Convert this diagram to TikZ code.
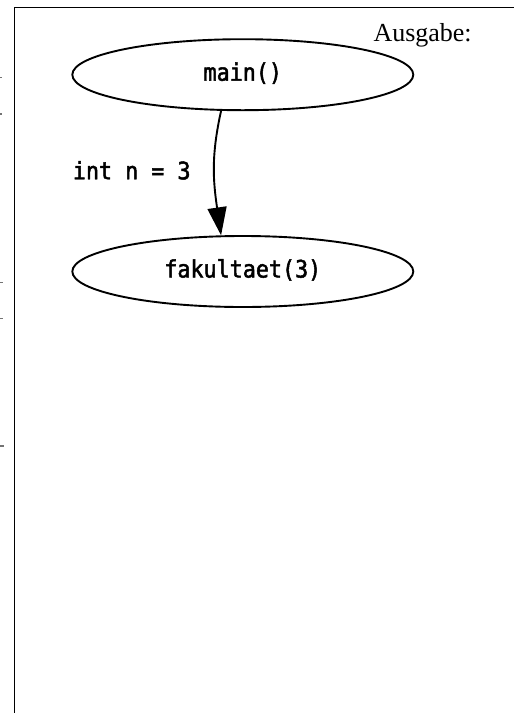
\documentclass[tikz,border=0pt]{standalone}
\usepackage{fontspec}
\setmainfont{Liberation Serif}
\newfontfamily\codefont{DejaVu Sans Mono}[FakeStretch=0.905, FakeBold=2]
\usetikzlibrary{shapes.geometric,arrows.meta}
\tikzset{
  frameline/.style={line width=1.5pt, black},
  callnode/.style={draw, ellipse, line width=1.9pt, minimum width=341pt, minimum height=71pt,
    inner sep=0pt, font=\codefont\fontsize{24}{28}\selectfont, text height=12pt, text depth=0pt},
  codelabel/.style={inner sep=0pt, font=\codefont\fontsize{24}{28}\selectfont},
  outlabel/.style={inner sep=0pt, font=\fontsize{26}{30}\selectfont},
  callarrow/.style={line width=1.9pt, -{Triangle[length=28pt,width=19pt]}},
  clipmark/.style={fill=black!55, draw=none}
}
\begin{document}
\begin{tikzpicture}[x=1pt,y=1pt]
\useasboundingbox (0,0) rectangle (514,-713);
% frame
\coordinate (ftop) at (514,-7.3);
\coordinate (fcorner) at (14.3,-7.3);
\coordinate (fbottom) at (14.3,-713);
\draw[frameline] (ftop) -- (fcorner) -- (fbottom);
% clipped marks at left edge
\fill[clipmark] (0,-76.5) rectangle (1.7,-78);
\fill[clipmark] (0,-113.3) rectangle (1.7,-114.8);
\fill[clipmark] (0,-281.5) rectangle (3,-283);
\fill[clipmark] (0,-317.5) rectangle (3,-319);
\fill[clipmark] (0,-445.3) rectangle (4,-446.6);
% output label
\node[outlabel, anchor=base west] (ausgabe) at (373.3,-41.7) {Ausgabe:};
% nodes
\node[callnode] (main) at (242.8,-74.7) {main()};
\node[callnode] (fak) at (242.8,-271.5) {fakultaet(3)};
% connector
\draw[callarrow] (main.239) .. controls +(-10,-45) and +(-8,55) .. (fak.121);
\node[codelabel, anchor=west] (lbl) at (72.7,-170.3) {int n = 3};
\end{tikzpicture}
\end{document}
